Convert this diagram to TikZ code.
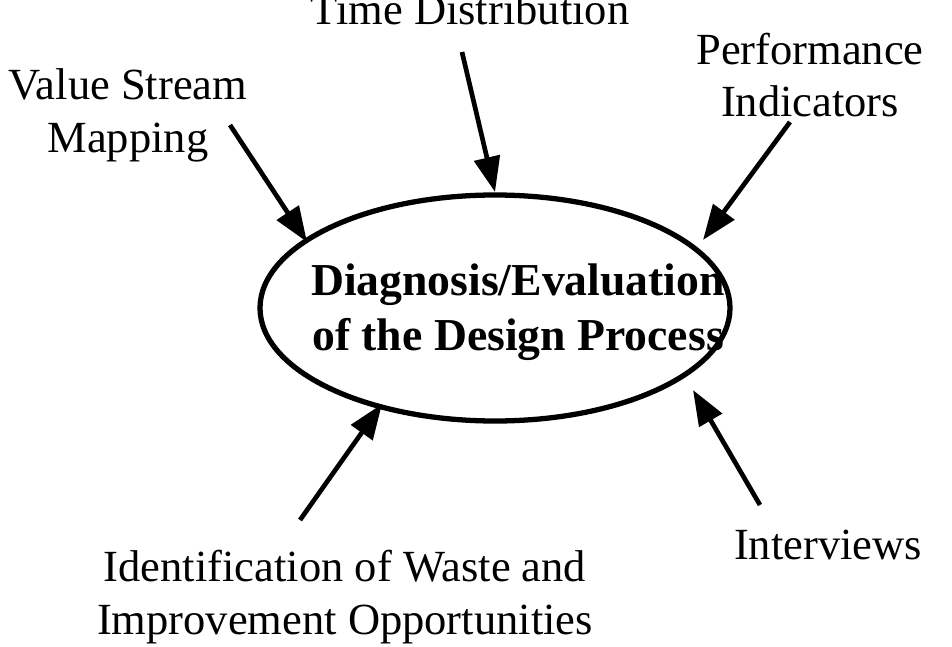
\documentclass[tikz,border=0pt]{standalone}
\usepackage{fontspec}
\setmainfont{Liberation Serif}
\usetikzlibrary{arrows.meta,shapes.geometric}
\begin{document}
\begin{tikzpicture}[x=0.03cm,y=-0.03cm,
  lbl/.style={font=\fontsize{38}{45}\selectfont,align=center,inner sep=0pt},
  arr/.style={line width=4pt,-{Triangle[length=30pt,width=22pt]}}]
\useasboundingbox (0,0) rectangle (952,647);
\draw[line width=4.5pt] (495,308) ellipse (235 and 113);
\node[font=\fontsize{39}{47}\selectfont\bfseries,align=center,inner sep=0pt] (e) at (518,312)
  {Diagnosis/Evaluation\\of the Design Process};
\node[lbl,anchor=base] (t) at (470,25) {Time Distribution};
\node[lbl] (v) at (128,115) {Value Stream\\Mapping};
\node[lbl] (p) at (810,75) {Performance\\Indicators};
\node[lbl] (w) at (345,597) {Identification of Waste and\\Improvement Opportunities};
\node[lbl] (i) at (828,545) {Interviews};
\coordinate (t1) at (462,52); \coordinate (t2) at (495,192);
\coordinate (v1) at (230,125); \coordinate (v2) at (307,242);
\coordinate (p1) at (790,122); \coordinate (p2) at (703,240);
\coordinate (w1) at (300,520); \coordinate (w2) at (382,404);
\coordinate (i1) at (760,505); \coordinate (i2) at (693,390);
\draw[arr] (t1) -- (t2);
\draw[arr] (v1) -- (v2);
\draw[arr] (p1) -- (p2);
\draw[arr] (w1) -- (w2);
\draw[arr] (i1) -- (i2);
\end{tikzpicture}
\end{document}
